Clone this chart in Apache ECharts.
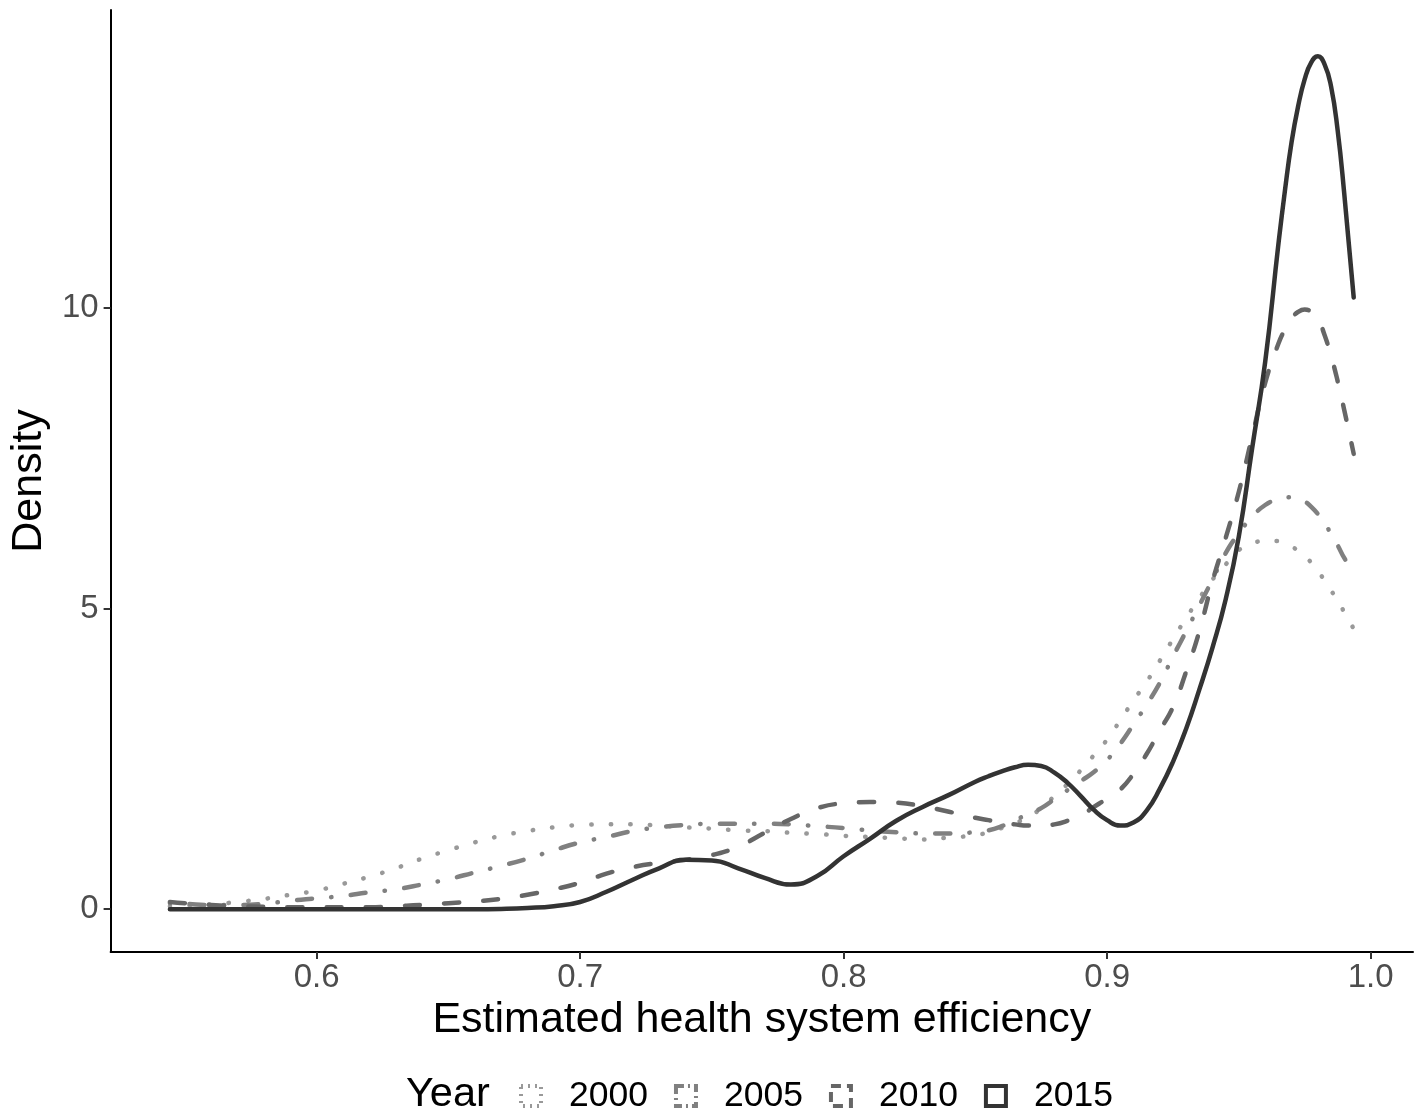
<!DOCTYPE html>
<html>
<head>
<meta charset="utf-8">
<script src="https://cdn.jsdelivr.net/npm/echarts@6/dist/echarts.min.js"></script>
<style>
html,body{margin:0;padding:0;background:#fff;}
#chart{width:1423px;height:1112px;}
</style>
</head>
<body>
<div id="chart"></div>
<script>
// ---- data ----
const years = ['2000', '2005', '2010', '2015'];
const xTicks = [0.6, 0.7, 0.8, 0.9, 1.0];
const yTicks = [0, 5, 10];
const efficiency = [0.5443, 0.55, 0.56, 0.57, 0.58, 0.59, 0.60, 0.61, 0.62, 0.63, 0.64, 0.65, 0.66, 0.67, 0.68, 0.69,
  0.70, 0.71, 0.72, 0.73, 0.74, 0.75, 0.76, 0.77, 0.78, 0.79, 0.80, 0.81, 0.82, 0.83, 0.84, 0.85,
  0.855, 0.86, 0.865, 0.87, 0.875, 0.88, 0.885, 0.89, 0.895, 0.90, 0.905, 0.91, 0.915, 0.92, 0.925, 0.93,
  0.935, 0.94, 0.945, 0.95, 0.955, 0.96, 0.965, 0.9675, 0.97, 0.9725, 0.975, 0.9775, 0.98, 0.9825,
  0.985, 0.9875, 0.99, 0.9936];
const density2000 = [0.05, 0.06, 0.08, 0.12, 0.17, 0.24, 0.31, 0.42, 0.54, 0.68, 0.84, 0.98, 1.11, 1.22, 1.30, 1.36,
  1.40, 1.41, 1.41, 1.39, 1.36, 1.34, 1.31, 1.30, 1.27, 1.25, 1.22, 1.20, 1.18, 1.16, 1.19, 1.23,
  1.28, 1.35, 1.43, 1.53, 1.68, 1.88, 2.08, 2.31, 2.56, 2.82, 3.14, 3.47, 3.78, 4.13, 4.49, 4.84,
  5.17, 5.48, 5.73, 5.97, 6.08, 6.12, 6.12, 6.08, 6.03, 5.96, 5.87, 5.76, 5.62, 5.47,
  5.30, 5.13, 4.94, 4.66];
const density2005 = [0.10, 0.09, 0.07, 0.07, 0.09, 0.14, 0.18, 0.22, 0.28, 0.33, 0.41, 0.50, 0.61, 0.72, 0.84, 0.98,
  1.11, 1.20, 1.30, 1.36, 1.40, 1.42, 1.42, 1.42, 1.41, 1.38, 1.35, 1.31, 1.28, 1.26, 1.26, 1.28,
  1.31, 1.38, 1.48, 1.58, 1.68, 1.83, 1.98, 2.13, 2.28, 2.48, 2.75, 3.07, 3.40, 3.76, 4.20, 4.62,
  5.05, 5.48, 5.92, 6.25, 6.52, 6.72, 6.82, 6.84, 6.85, 6.83, 6.78, 6.69, 6.57, 6.42,
  6.24, 6.05, 5.84, 5.60];
const density2010 = [0.12, 0.10, 0.07, 0.05, 0.04, 0.03, 0.03, 0.03, 0.03, 0.05, 0.07, 0.10, 0.13, 0.17, 0.24, 0.33,
  0.44, 0.59, 0.70, 0.77, 0.82, 0.90, 1.04, 1.27, 1.50, 1.68, 1.76, 1.78, 1.77, 1.71, 1.62, 1.52,
  1.48, 1.44, 1.41, 1.39, 1.39, 1.41, 1.47, 1.56, 1.70, 1.84, 1.99, 2.25, 2.58, 2.97, 3.36, 3.95,
  4.62, 5.45, 6.17, 6.94, 7.85, 8.75, 9.40, 9.64, 9.82, 9.93, 9.97, 9.93, 9.82, 9.55,
  9.20, 8.78, 8.30, 7.57];
const density2015 = [0, 0, 0, 0, 0, 0, 0, 0, 0, 0, 0, 0, 0, 0.005, 0.02, 0.05,
  0.12, 0.29, 0.49, 0.68, 0.82, 0.81, 0.68, 0.52, 0.41, 0.55, 0.88, 1.17, 1.47, 1.70, 1.90, 2.12,
  2.21, 2.29, 2.36, 2.40, 2.38, 2.27, 2.10, 1.88, 1.65, 1.48, 1.39, 1.44, 1.64, 2.00, 2.45, 3.00,
  3.65, 4.35, 5.15, 6.20, 7.65, 9.10, 11.05, 11.95, 12.75, 13.35, 13.80, 14.08, 14.18, 14.05,
  13.68, 12.95, 11.9, 10.17];

// ---- style ----
const densities = [density2000, density2005, density2010, density2015];
const colors = ['#999999', '#808080', '#666666', '#333333'];
const LW = 4.5;
const dashes = [[0.4, 19.2], [0.4, 19.2, 15.1, 19.2], [15.1, 24.1], 'solid'];
const legendDashes = [[2, 5], [8, 4, 2, 4], [10, 6], 'solid'];
const FONT = '"Liberation Sans", Arial, Helvetica, sans-serif';

const chart = echarts.init(document.getElementById('chart'), null, {renderer: 'canvas'});

const series = years.map((y, i) => ({
  name: y,
  type: 'line',
  data: efficiency.map((x, k) => [x, densities[i][k]]),
  showSymbol: false,
  smooth: 0.5,
  color: colors[i],
  lineStyle: {color: colors[i], width: LW, type: dashes[i], cap: 'round', join: 'round'},
  z: 2 + i
}));

const option = {
  animation: false,
  backgroundColor: '#ffffff',
  textStyle: {fontFamily: FONT},
  title: {
    text: 'Year', left: 406, top: 1074, padding: 0,
    textStyle: {fontSize: 41.5, fontWeight: 'normal', color: '#000000', fontFamily: FONT}
  },
  legend: {
    left: 519, top: 1078, padding: 0,
    itemWidth: 20, itemHeight: 20, itemGap: 26,
    icon: 'rect',
    textStyle: {fontSize: 35.5, color: '#000000', fontFamily: FONT, padding: [0, 0, 0, 23]},
    data: years.map((y, i) => ({
      name: y,
      icon: 'rect',
      itemStyle: {color: 'rgba(0,0,0,0)', borderColor: colors[i], borderWidth: 4, borderType: legendDashes[i]},
      lineStyle: {width: 0}
    }))
  },
  grid: {left: 109, right: 10, top: 10, bottom: 160, containLabel: false},
  xAxis: {
    type: 'value',
    min: 0.5218, max: 1.0161,
    name: 'Estimated health system efficiency',
    nameLocation: 'middle', nameGap: 41,
    nameTextStyle: {fontSize: 43, color: '#000000', fontFamily: FONT},
    axisLine: {onZero: false, lineStyle: {color: '#000000', width: 2}},
    axisTick: {show: true, length: 7, lineStyle: {color: '#333333', width: 2}, customValues: xTicks},
    axisLabel: {customValues: xTicks, fontSize: 33, color: '#4d4d4d', margin: 9,
      formatter: v => v.toFixed(1)},
    splitLine: {show: false}
  },
  yAxis: {
    type: 'value',
    min: -0.712, max: 14.95,
    name: 'Density',
    nameLocation: 'middle', nameGap: 54,
    nameTextStyle: {fontSize: 43, color: '#000000', fontFamily: FONT},
    axisLine: {show: true, onZero: false, lineStyle: {color: '#000000', width: 2}},
    axisTick: {show: true, length: 7, lineStyle: {color: '#333333', width: 2}, customValues: yTicks},
    axisLabel: {customValues: yTicks, fontSize: 33, color: '#4d4d4d', margin: 12,
      formatter: v => String(Math.round(v))},
    splitLine: {show: false}
  },
  series: series
};
chart.setOption(option);
</script>
</body>
</html>
